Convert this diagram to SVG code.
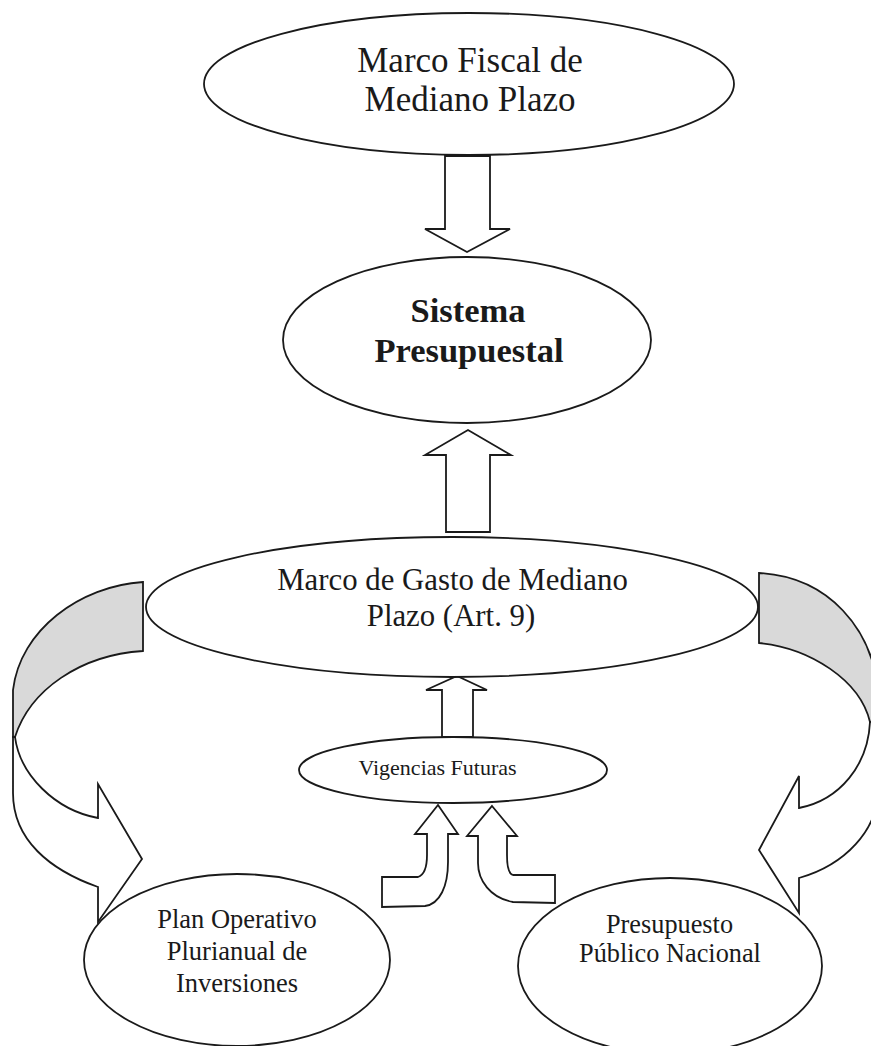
<svg xmlns="http://www.w3.org/2000/svg" width="871" height="1046" viewBox="0 0 871 1046">
<style>
.n{fill:#fff;stroke:#1a1a1a;stroke-width:1.8}
.a{fill:#fff;stroke:#1a1a1a;stroke-width:1.8;stroke-linejoin:miter}
.g{fill:#d9d9d9;stroke:#1a1a1a;stroke-width:1.8}
.t{font-family:"Liberation Serif","Times New Roman",serif;fill:#1a1a1a;text-anchor:middle}
.b{font-weight:bold}
</style>
<rect width="871" height="1046" fill="#fff"/>
<g id="connectors">
<path class="a" d="M445,156 L490,156 L490,229 L510,229 L467,252 L425,229 L445,229 Z"/>
<path class="a" d="M446,532 L490,532 L490,455 L511,455 L468,430 L425,455 L446,455 Z"/>
<path class="a" d="M442,737 L473,737 L473,690 L487,690 L457,676 L426,690 L442,690 Z"/>
<path class="a" d="M438,805 L458,834 L448,834 L448,862 C448,886 440,904 425,906 L382,907 L382,877 L418,877 C424,875 427,866 427,855 L427,834 L415,834 Z"/>
<path class="a" d="M492,806 L517,836 L507,836 L507,855 C507,866 509,874 513,875 L555,875 L555,903 L513,902 C490,898 478,880 478,863 L478,836 L467,836 Z"/>
<path class="g" d="M143,582 C80,586 20,630 13,690 L13,737 L15,737 C30,690 80,655 143,651 Z"/>
<path class="a" d="M15,737 C20,775 55,810 98,818 L98,784 L142,859 L98,922 L98,887 C50,870 13,840 13,793 L13,737 Z"/>
<path class="g" d="M759,573 C830,577 872,630 878,690 L878,722 L870,722 C860,680 810,648 759,643 Z"/>
<path class="a" d="M870,722 C868,765 840,800 799,808 L799,776 L759,850 L799,913 L799,878 C845,865 878,830 878,790 L878,722 Z"/>
</g>
<g id="marco-fiscal">
<ellipse class="n" cx="469" cy="84" rx="265" ry="71"/>
<text class="t" x="470" y="72" font-size="35">Marco Fiscal de</text>
<text class="t" x="470" y="111" font-size="35">Mediano Plazo</text>
</g>
<g id="sistema-presupuestal">
<ellipse class="n" cx="467" cy="340" rx="184" ry="83"/>
<text class="t b" x="468" y="322" font-size="34.5">Sistema</text>
<text class="t b" x="469" y="362" font-size="34.5">Presupuestal</text>
</g>
<g id="marco-gasto">
<ellipse class="n" cx="452" cy="607" rx="306" ry="70"/>
<text class="t" x="452.5" y="590" font-size="30.8">Marco de Gasto de Mediano</text>
<text class="t" x="451" y="626" font-size="30.8">Plazo (Art. 9)</text>
</g>
<g id="vigencias-futuras">
<ellipse class="n" cx="453" cy="770" rx="154" ry="33"/>
<text class="t" x="437.5" y="775" font-size="22">Vigencias Futuras</text>
</g>
<g id="plan-operativo">
<ellipse class="n" cx="237" cy="960" rx="153" ry="86"/>
<text class="t" x="237" y="928" font-size="26.5">Plan Operativo</text>
<text class="t" x="237" y="960" font-size="26.5">Plurianual de</text>
<text class="t" x="237" y="992" font-size="26.5">Inversiones</text>
</g>
<g id="presupuesto-publico">
<ellipse class="n" cx="670" cy="966" rx="152" ry="88"/>
<text class="t" x="669.5" y="933" font-size="26.3">Presupuesto</text>
<text class="t" x="670" y="962" font-size="26.3">Público Nacional</text>
</g>
</svg>
